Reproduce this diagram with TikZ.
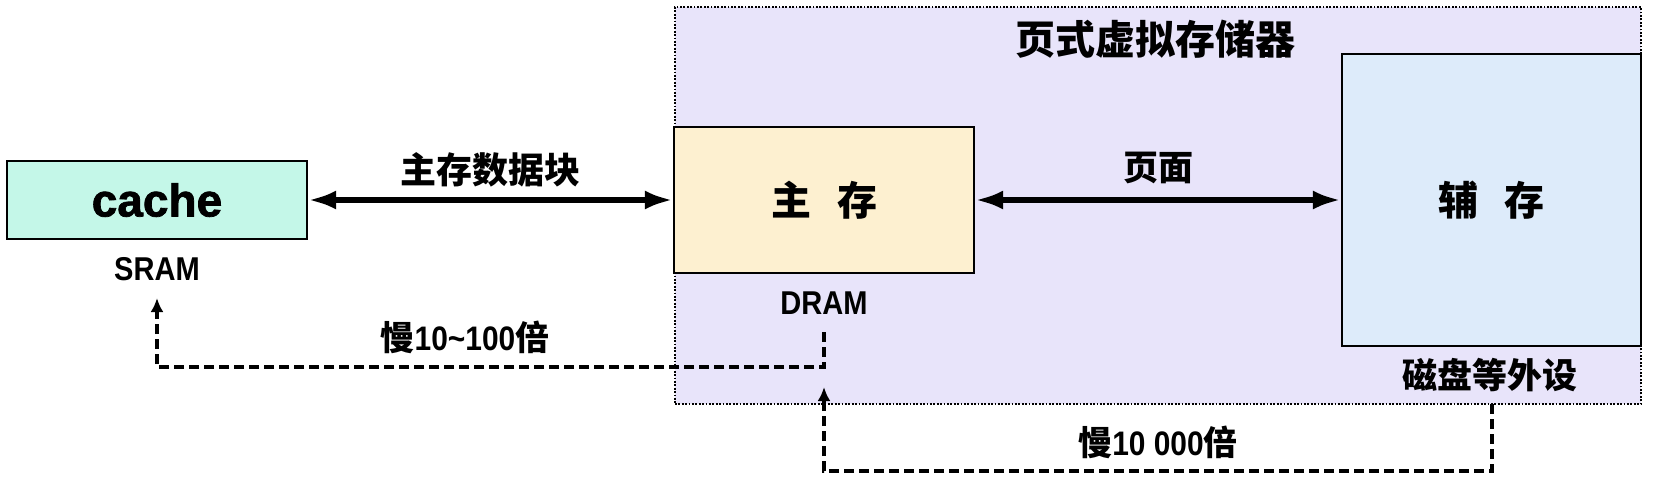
\documentclass[tikz,border=0pt]{standalone}
\usepackage{fontspec}
\newfontfamily\cjk{Noto Sans CJK SC}
\newfontfamily\latn[FakeStretch=0.88]{Liberation Sans}
\newfontfamily\latw[FakeBold=1.6]{Liberation Sans}
\usetikzlibrary{arrows.meta}
\definecolor{cachefill}{RGB}{196,247,232}
\definecolor{memfill}{RGB}{253,240,208}
\definecolor{outerfill}{RGB}{232,228,250}
\definecolor{auxfill}{RGB}{221,235,250}
\tikzset{
  box/.style={draw=black, line width=2.2pt, inner sep=0pt, anchor=center},
  outerbox/.style={draw=black, line width=1.6pt, dash pattern=on 1.8pt off 1.6pt, fill=outerfill, inner sep=0pt},
  lbl/.style={inner sep=0pt, anchor=center, font=\cjk\bfseries\fontsize{35}{40}\selectfont},
  ram/.style={inner sep=0pt, anchor=center, font=\latn\bfseries\fontsize{33}{36}\selectfont},
  bigarrow/.style={line width=6pt, {Latex[length=28pt,width=19pt]}-{Latex[length=28pt,width=19pt]}},
  slowline/.style={line width=3.2pt, dash pattern=on 10pt off 5pt, -{Latex[length=14pt,width=13pt]}},
}
\begin{document}
\begin{tikzpicture}[x=1pt,y=-1pt]
\useasboundingbox (0,0) rectangle (1657,483);
% outer dotted region
\node[outerbox, minimum width=966pt, minimum height=397pt] (outer) at (1158,205.5) {};
% boxes
\node[box, fill=cachefill, minimum width=300pt, minimum height=78pt,
      font=\latw\bfseries\fontsize{46}{50}\selectfont] (cache) at (157,200) {cache};
\node[box, fill=memfill, minimum width=300pt, minimum height=146pt,
      font=\cjk\bfseries\fontsize{40}{44}\selectfont] (mem) at (824,200) {主\hspace{26pt}存};
\node[box, fill=auxfill, minimum width=299pt, minimum height=292pt,
      font=\cjk\bfseries\fontsize{40}{44}\selectfont] (aux) at (1491.5,200) {辅\hspace{26pt}存};
% labels
\node[lbl, font=\cjk\bfseries\fontsize{40}{44}\selectfont] (title) at (1155,39) {页式虚拟存储器};
\node[ram] (sram) at (157,269) {SRAM};
\node[ram] (dram) at (824,303) {DRAM};
\node[lbl] (disk) at (1490,375) {磁盘等外设};
\node[lbl, font=\cjk\bfseries\fontsize{36}{40}\selectfont] (blk) at (490,170) {主存数据块};
\node[lbl] (page) at (1158,168) {页面};
\node[lbl, font=\cjk\bfseries\fontsize{34}{38}\selectfont] (slow1) at (465,337) {慢{\latn 10\textasciitilde100}倍};
\node[lbl, font=\cjk\bfseries\fontsize{34}{38}\selectfont] (slow2) at (1158,442) {慢{\latn 10 000}倍};
% thick double arrows
\draw[bigarrow] (cache.east) -- (mem.west);
\draw[bigarrow] (mem.east) -- (aux.west);
% dashed slow paths
\coordinate (s1a) at (824,332);
\coordinate (s1b) at (824,367);
\coordinate (s1c) at (157,367);
\coordinate (s1d) at (157,298);
\draw[slowline] (s1a) -- (s1b) -- (s1c) -- (s1d);
\coordinate (s2a) at (1492,404);
\coordinate (s2b) at (1492,471);
\coordinate (s2c) at (824,471);
\coordinate (s2d) at (824,387);
\draw[slowline] (s2a) -- (s2b) -- (s2c) -- (s2d);
\end{tikzpicture}
\end{document}
